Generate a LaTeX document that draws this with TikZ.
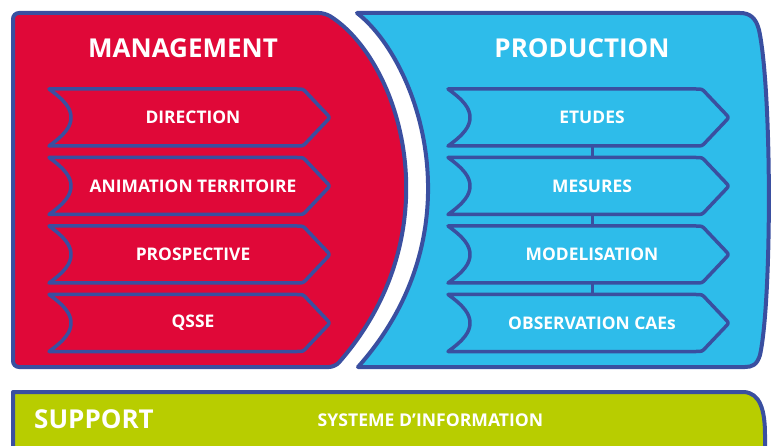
\documentclass[tikz,border=0pt]{standalone}
\usepackage{fontspec}
\setmainfont{Open Sans}
\usetikzlibrary{calc}
\definecolor{edge}{RGB}{58,79,160}
\definecolor{mred}{RGB}{224,8,56}
\definecolor{pblue}{RGB}{46,188,234}
\definecolor{sgreen}{RGB}{184,205,0}
\begin{document}
\begin{tikzpicture}[x=1pt,y=-1pt,
  blk/.style={draw=edge,line width=4pt,line join=round},
  chev/.style={minimum height=57pt,inner sep=0pt,text=white,font=\bfseries\fontsize{17.4}{17.4}\selectfont},
  ttl/.style={text=white,font=\bfseries\fontsize{26}{26}\selectfont},
  sub/.style={text=white,font=\bfseries\fontsize{17.6}{17.6}\selectfont},
  cline/.style={draw=edge,line width=3.5pt,line join=round}]
\useasboundingbox (0,0) rectangle (771,446);
\clip (0,0) rectangle (771,446);
% blocks
\path[blk,fill=mred,rounded corners=6pt] (13,13) -- (325,13) .. controls (400,60) and (455,230) .. (335,367) -- (13,367) -- cycle;
\path[blk,fill=pblue] (357,13) -- (740,13) .. controls (750,13) and (756,18) .. (759,30)
   .. controls (772,90) and (772,300) .. (760,355) .. controls (757,365) and (752,367) .. (745,367)
   -- (358,367) .. controls (480,230) and (418,60) .. cycle;
\path[blk,fill=sgreen] (13,470) -- (13,392) -- (744,392) .. controls (760,393) and (765,410) .. (765,435) -- (765,470) -- cycle;
% titles
\node[ttl] (mgmt) at (183,48) {MANAGEMENT};
\node[ttl] (prod) at (582,48) {PRODUCTION};
\node[ttl] (sup) at (94,419) {SUPPORT};
\node[sub] (si) at (430.5,420) {SYSTEME D’INFORMATION};
% boxes
\node[chev] (m1) at (193,117.5) {DIRECTION};
\node[chev] (m2) at (193,186) {ANIMATION TERRITOIRE};
\node[chev] (m3) at (193,254.5) {PROSPECTIVE};
\node[chev] (m4) at (193,323) {QSSE};
\node[chev] (p1) at (592,117.5) {ETUDES};
\node[chev] (p2) at (592,186) {MESURES};
\node[chev] (p3) at (592,254.5) {MODELISATION};
\node[chev] (p4) at (592,323) {OBSERVATION CAEs};
\foreach \n in {m1,m2,m3,m4,p1,p2,p3,p4}
  \draw[cline] ($(\n.center)+(-144,-28.5)$) -- ($(\n.center)+(104,-28.5)$)
    .. controls ($(\n.center)+(110,-28.5)$) .. ($(\n.center)+(113.5,-24.8)$)
    -- ($(\n.center)+(133.5,-3.7)$)
    .. controls ($(\n.center)+(137,0)$) .. ($(\n.center)+(133.5,3.7)$)
    -- ($(\n.center)+(113.5,24.8)$)
    .. controls ($(\n.center)+(110,28.5)$) .. ($(\n.center)+(104,28.5)$)
    -- ($(\n.center)+(-144,28.5)$)
    .. controls ($(\n.center)+(-128,17)$) and ($(\n.center)+(-122,9)$) .. ($(\n.center)+(-122,0)$)
    .. controls ($(\n.center)+(-122,-9)$) and ($(\n.center)+(-128,-17)$) .. cycle;
% connectors
\draw[cline,line width=3pt] (p1.south) -- (p2.north);
\draw[cline,line width=3pt] (p2.south) -- (p3.north);
\draw[cline,line width=3pt] (p3.south) -- (p4.north);
\end{tikzpicture}
\end{document}
